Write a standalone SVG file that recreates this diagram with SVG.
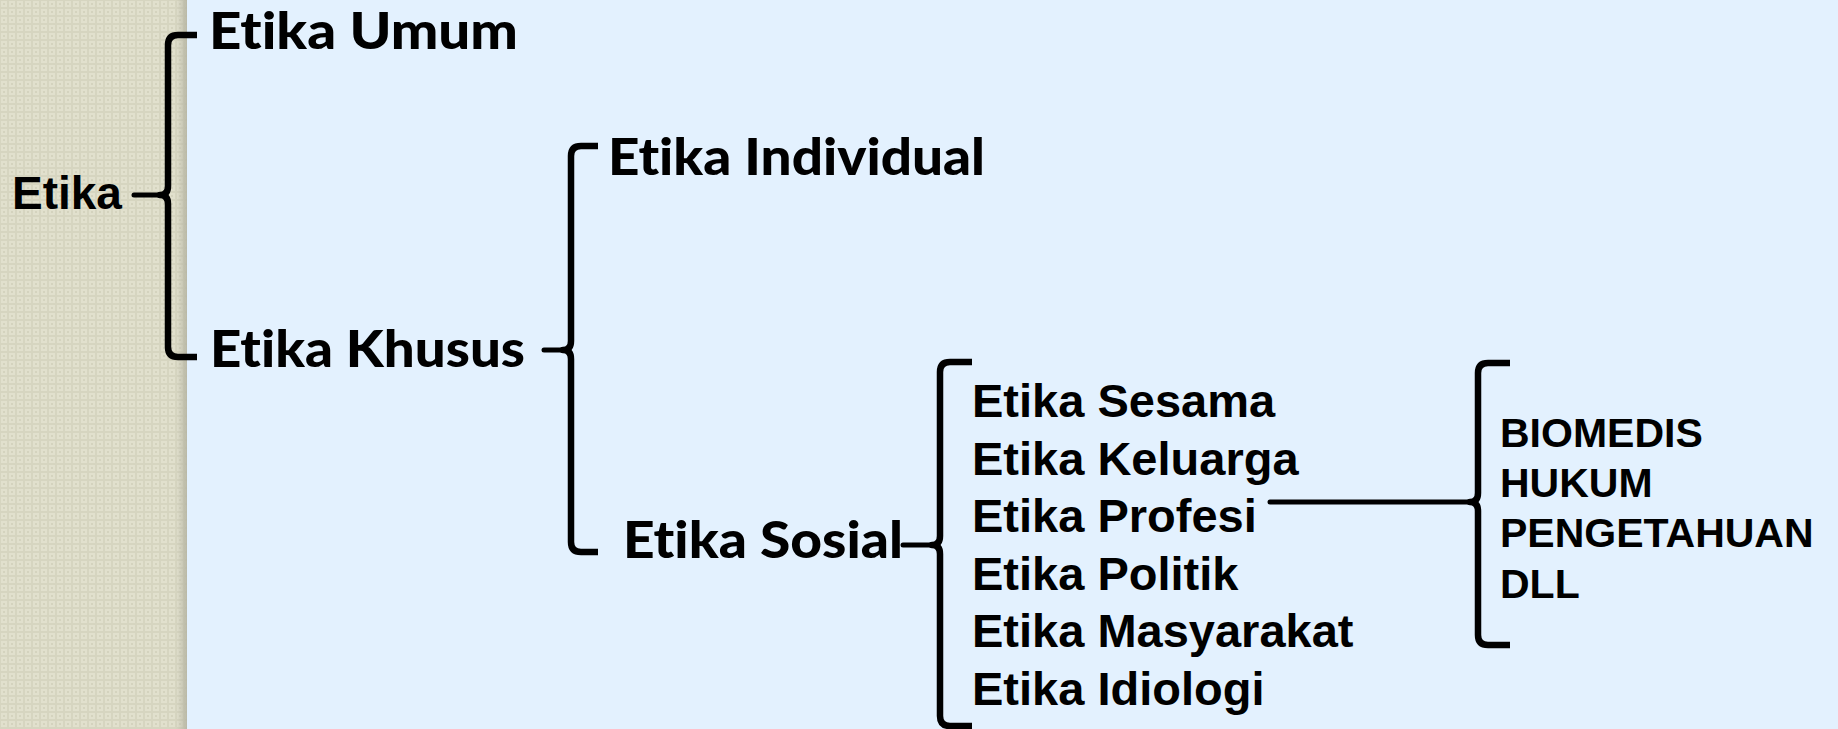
<svg xmlns="http://www.w3.org/2000/svg" width="1838" height="729" viewBox="0 0 1838 729">
  <defs>
    <pattern id="weave" x="0" y="0" width="8" height="8" patternUnits="userSpaceOnUse">
      <rect width="8" height="8" fill="#d6d5c0"/>
      <rect x="1" y="1" width="6" height="6" fill="#e1e0cd"/>
      <rect x="3" y="3" width="2" height="2" fill="#d4d3be"/>
    </pattern>
    <linearGradient id="edge" x1="0" y1="0" x2="1" y2="0">
      <stop offset="0" stop-color="#b9b8a6" stop-opacity="0"/>
      <stop offset="1" stop-color="#b5b4a2" stop-opacity="0.9"/>
    </linearGradient>
  </defs>
  <style>
    .brace { fill: none; stroke: #000; stroke-width: 6.5; stroke-linejoin: round; stroke-linecap: butt; }
    .link { fill: none; stroke: #000; stroke-width: 5; stroke-linecap: round; }
    .gill { font-family: Lato, "Open Sans", "Liberation Sans", sans-serif; font-weight: 900; font-size: 51px; fill: #000;
            font-variant-ligatures: none; font-feature-settings: "liga" 0, "clig" 0, "dlig" 0, "calt" 0; }
    .arial { font-family: "Liberation Sans", Arial, sans-serif; font-weight: 700; fill: #000; }
    .list { font-size: 47px; }
    .sub { font-size: 41px; }
  </style>

  <!-- backdrop -->
  <rect width="1838" height="729" fill="#e3f1fe"/>
  <rect width="187" height="729" fill="url(#weave)"/>
  <rect x="176" width="11" height="729" fill="url(#edge)"/>

  <!-- connectors and braces -->
  <g id="connectors">
    <path class="brace" d="M197,35 L178,35 Q168,35 168,45 V186 Q168,195 160,195 Q168,195 168,204 V347 Q168,357 178,357 L197,357"/>
    <line class="link" x1="134" y1="195" x2="162" y2="195"/>

    <path class="brace" d="M598,146 L581,146 Q571,146 571,156 V341 Q571,350 563,350 Q571,350 571,359 V542 Q571,552 581,552 L598,552"/>
    <line class="link" x1="544" y1="350" x2="565" y2="350"/>

    <path class="brace" d="M972,362 L950,362 Q940,362 940,372 V536 Q940,545 932,545 Q940,545 940,554 V716 Q940,726 950,726 L972,726"/>
    <line class="link" x1="903" y1="545" x2="934" y2="545"/>

    <path class="brace" d="M1510,363 L1488,363 Q1478,363 1478,373 V493 Q1478,502 1470,502 Q1478,502 1478,511 V635 Q1478,645 1488,645 L1510,645"/>
    <line class="link" x1="1270" y1="502" x2="1472" y2="502"/>
  </g>

  <g id="node-etika">
    <text class="arial" x="12" y="209" font-size="46">Etika</text>
  </g>
  <g id="node-etika-umum">
    <text class="gill" x="209" y="49" textLength="309" lengthAdjust="spacingAndGlyphs">Etika Umum</text>
  </g>
  <g id="node-etika-khusus">
    <text class="gill" x="210" y="367" textLength="315" lengthAdjust="spacingAndGlyphs">Etika Khusus</text>
  </g>
  <g id="node-etika-individual">
    <text class="gill" x="608" y="175" textLength="377" lengthAdjust="spacingAndGlyphs">Etika Individual</text>
  </g>
  <g id="node-etika-sosial">
    <text class="gill" x="623" y="558" textLength="280" lengthAdjust="spacingAndGlyphs">Etika Sosial</text>
  </g>
  <g id="node-sosial-list">
    <text class="arial list" x="972" y="417">Etika Sesama</text>
    <text class="arial list" x="972" y="475">Etika Keluarga</text>
    <text class="arial list" x="972" y="532">Etika Profesi</text>
    <text class="arial list" x="972" y="590">Etika Politik</text>
    <text class="arial list" x="972" y="647">Etika Masyarakat</text>
    <text class="arial list" x="972" y="705">Etika Idiologi</text>
  </g>
  <g id="node-profesi-list">
    <text class="arial sub" x="1500" y="447">BIOMEDIS</text>
    <text class="arial sub" x="1500" y="497">HUKUM</text>
    <text class="arial sub" x="1500" y="547">PENGETAHUAN</text>
    <text class="arial sub" x="1500" y="598">DLL</text>
  </g>
</svg>
